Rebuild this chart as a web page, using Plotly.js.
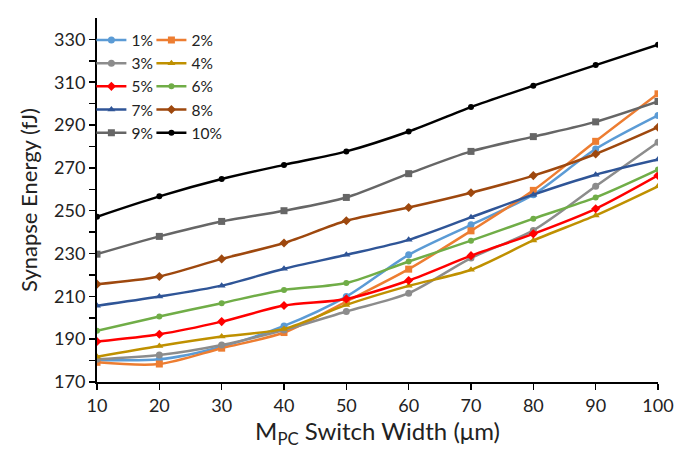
<!DOCTYPE html>
<html>
<head>
<meta charset="utf-8">
<script src="https://cdn.plot.ly/plotly-3.0.1.min.js"></script>
<style>html,body{margin:0;padding:0;background:#fff;}#chart{width:699px;height:453px;}</style>
</head>
<body>
<div id="chart"></div>
<script>
const widths = [10, 20, 30, 40, 50, 60, 70, 80, 90, 100];
const seriesNames = ["1%", "2%", "3%", "4%", "5%", "6%", "7%", "8%", "9%", "10%"];
const s1 = [180.3, 180.6, 186.5, 196.2, 209.9, 229.4, 243.4, 257.5, 278.8, 294.5];
const s2 = [179.2, 178.4, 185.8, 193.1, 207.6, 222.7, 240.6, 259.5, 282.4, 304.6];
const s3 = [180.6, 182.6, 187.3, 194.3, 202.9, 211.5, 227.9, 240.8, 261.4, 282.0];
const s4 = [181.8, 186.8, 191.2, 194.8, 206.0, 214.9, 222.4, 236.1, 247.8, 261.4];
const s5 = [188.9, 192.3, 198.2, 205.7, 208.8, 217.4, 229.0, 239.2, 250.9, 266.5];
const s6 = [193.9, 200.6, 206.8, 213.0, 216.2, 226.3, 236.0, 246.3, 256.2, 269.2];
const s7 = [205.6, 209.9, 215.0, 222.9, 229.4, 236.4, 246.9, 257.5, 266.8, 273.9];
const s8 = [215.7, 219.3, 227.5, 234.9, 245.3, 251.5, 258.4, 266.4, 276.5, 289.0];
const s9 = [229.7, 238.0, 245.0, 250.0, 256.2, 267.3, 277.7, 284.6, 291.5, 301.0];
const s10 = [247.2, 256.7, 264.8, 271.4, 277.7, 287.0, 298.4, 308.4, 318.0, 327.5];
const yTickVals = [170,180,190,200,210,220,230,240,250,260,270,280,290,300,310,320,330];
const yTickText = ["170","","190","","210","","230","","250","","270","","290","","310","","330"];
const xTickVals = [10, 20, 30, 40, 50, 60, 70, 80, 90, 100];

const allSeries = [s1, s2, s3, s4, s5, s6, s7, s8, s9, s10];
const colors = ["#5B9BD5", "#ED7D31", "#8C8C8C", "#BF9000", "#FF0000", "#70AD47", "#2F5597", "#9E480E", "#666666", "#000000"];
const symbols = ["circle", "square", "circle", "triangle-up", "diamond", "circle", "triangle-up", "diamond", "square", "circle"];
const msizes = [7, 7, 7, 7, 7, 6, 7, 7, 7, 6];

const FONT = "Lato, 'Open Sans', sans-serif";
const traces = allSeries.map((ys, i) => ({
  x: widths, y: ys, name: seriesNames[i], type: "scatter", mode: "lines+markers",
  line: {color: colors[i], width: 2.5, shape: "spline", smoothing: 0.8},
  marker: {color: colors[i], symbol: symbols[i], size: msizes[i]},
  legend: (i % 2 === 0) ? "legend" : "legend2"
}));

const legendCommon = {
  bgcolor: "rgba(0,0,0,0)", borderwidth: 0, orientation: "v",
  font: {family: FONT, size: 15.5, color: "#222"}, yanchor: "top", xanchor: "left",
  tracegroupgap: 0, itemwidth: 30
};

const layout = {
  width: 699, height: 453,
  margin: {l: 97, r: 41, t: 18, b: 71},
  paper_bgcolor: "#fff", plot_bgcolor: "#fff",
  font: {family: FONT, color: "#222"},
  showlegend: true,
  legend: Object.assign({}, legendCommon, {x: -0.01, y: 0.985}),
  legend2: Object.assign({}, legendCommon, {x: 0.097, y: 0.985}),
  xaxis: {
    range: [10, 100], tickvals: xTickVals, ticktext: xTickVals.map(String),
    showgrid: false, zeroline: false, showline: true, linecolor: "#000", linewidth: 2,
    ticks: "outside", ticklen: 6, tickwidth: 1.5, tickcolor: "#000",
    tickfont: {family: FONT, size: 18, color: "#222"},
    title: {text: "M<sub>PC</sub> Switch Width (μm)", font: {family: FONT, size: 24, color: "#222"}, standoff: 6}
  },
  yaxis: {
    range: [170, 340], tickvals: yTickVals, ticktext: yTickText,
    showgrid: false, zeroline: false, showline: true, linecolor: "#000", linewidth: 2,
    ticks: "outside", ticklen: 6, tickwidth: 1.5, tickcolor: "#000",
    tickfont: {family: FONT, size: 18, color: "#222"},
    title: {text: "Synapse Energy (fJ)", font: {family: FONT, size: 22, color: "#222"}, standoff: 10}
  }
};

Plotly.newPlot("chart", traces, layout, {displayModeBar: false, staticPlot: true});
</script>
</body>
</html>
